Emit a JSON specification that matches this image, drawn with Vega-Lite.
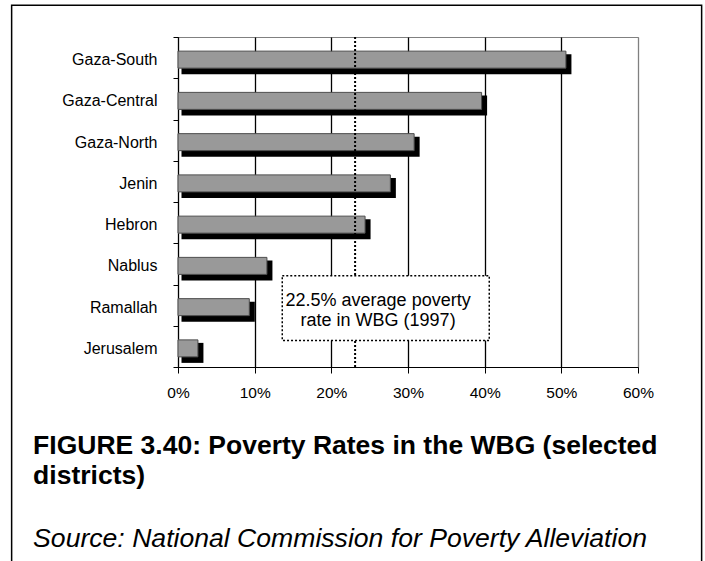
{
  "$schema": "https://vega.github.io/schema/vega-lite/v6.json",
  "width": 460,
  "height": 330,
  "autosize": "none",
  "padding": {"left": 178, "top": 37, "right": 67, "bottom": 194},
  "background": "white",
  "config": {
    "view": {"stroke": "#808080", "strokeWidth": 1},
    "font": "Liberation Sans",
    "text": {"font": "Liberation Sans"}
  },
  "datasets": {
    "rates": [
      {"district": "Gaza-South", "rate": 50.6},
      {"district": "Gaza-Central", "rate": 39.6},
      {"district": "Gaza-North", "rate": 30.8},
      {"district": "Jenin", "rate": 27.7},
      {"district": "Hebron", "rate": 24.4},
      {"district": "Nablus", "rate": 11.6},
      {"district": "Ramallah", "rate": 9.3},
      {"district": "Jerusalem", "rate": 2.6}
    ],
    "ref": [{"avg": 23.1}],
    "note": [{"x1": 13.6, "x2": 40.6, "y1": 5.79, "y2": 7.36, "lx": 26.1, "ly": 6.4, "label": ["22.5% average poverty", "rate in WBG (1997)"]}],
    "frame": [{"x1": -21.7, "x2": 68.3, "y1": -0.77, "y2": 12.9}],
    "captions": [
      {"cx": -18.9, "cy": 10.12, "kind": "title", "label": ["FIGURE 3.40: Poverty Rates in the WBG (selected", "districts)"]},
      {"cx": -18.9, "cy": 12.36, "kind": "source", "label": ["Source: National Commission for Poverty Alleviation"]}
    ]
  },
  "layer": [
    {
      "data": {"name": "rates"},
      "encoding": {
        "y": {
          "field": "district", "type": "nominal", "sort": null,
          "scale": {"paddingInner": 0, "paddingOuter": 0},
          "axis": {
            "title": null, "domainColor": "black", "domainWidth": 1,
            "tickColor": "black", "tickSize": 5, "tickBand": "extent",
            "labelPadding": 16, "labelFontSize": 16, "labelColor": "black",
            "labelFont": "Liberation Sans", "labelOffset": 2, "grid": false
          }
        }
      },
      "layer": [
        {
          "mark": {"type": "bar", "color": "black", "height": 20, "yOffset": 6.5, "xOffset": 5.5, "x2Offset": 3.5},
          "encoding": {
            "x": {"field": "rate", "type": "quantitative", "scale": {"domain": [0, 60], "nice": false}},
            "x2": {"datum": 0}
          }
        },
        {
          "mark": {"type": "bar", "fill": "#999999", "stroke": "#4d4d4d", "strokeWidth": 1, "height": 17, "yOffset": 2},
          "encoding": {
            "x": {
              "field": "rate", "type": "quantitative",
              "scale": {"domain": [0, 60], "nice": false},
              "axis": {
                "title": null, "values": [0, 10, 20, 30, 40, 50, 60],
                "labelExpr": "datum.value + '%'",
                "labelFlush": false,
                "domainColor": "black", "domainWidth": 1,
                "tickColor": "black", "tickSize": 6,
                "labelPadding": 12, "labelFontSize": 15.5, "labelColor": "black",
                "labelFont": "Liberation Sans",
                "grid": true, "gridWidth": 1.3,
                "gridColor": {"condition": {"test": "datum.value === 60", "value": "#808080"}, "value": "black"}
              }
            },
            "x2": {"datum": 0}
          }
        }
      ]
    },
    {
      "data": {"name": "ref"},
      "mark": {"type": "rule", "color": "black", "strokeWidth": 2, "strokeDash": [2, 2]},
      "encoding": {
        "x": {"field": "avg", "type": "quantitative", "scale": {"domain": [0, 60], "nice": false}}
      }
    },
    {
      "data": {"name": "note"},
      "layer": [
        {
          "mark": {"type": "rect", "fill": "white", "stroke": "black", "strokeWidth": 1.5, "strokeDash": [2, 2]},
          "encoding": {
            "x": {"field": "x1", "type": "quantitative", "scale": {"domain": [0, 60], "nice": false}},
            "x2": {"field": "x2"},
            "y": {"field": "y1", "type": "quantitative", "scale": {"domain": [0, 8], "reverse": true, "nice": false, "zero": false}, "axis": null},
            "y2": {"field": "y2"}
          }
        },
        {
          "mark": {"type": "text", "align": "center", "baseline": "middle", "fontSize": 18, "lineHeight": 20, "color": "black"},
          "encoding": {
            "x": {"field": "lx", "type": "quantitative", "scale": {"domain": [0, 60], "nice": false}},
            "y": {"field": "ly", "type": "quantitative", "scale": {"domain": [0, 8], "reverse": true, "nice": false, "zero": false}, "axis": null},
            "text": {"field": "label"}
          }
        }
      ]
    },
    {
      "data": {"name": "frame"},
      "mark": {"type": "rect", "fill": null, "fillOpacity": 0, "stroke": "black", "strokeWidth": 1.5},
      "encoding": {
        "x": {"field": "x1", "type": "quantitative", "scale": {"domain": [0, 60], "nice": false}},
        "x2": {"field": "x2"},
        "y": {"field": "y1", "type": "quantitative", "scale": {"domain": [0, 8], "reverse": true, "nice": false, "zero": false}, "axis": null},
        "y2": {"field": "y2"}
      }
    },
    {
      "data": {"name": "captions"},
      "layer": [
        {
          "transform": [{"filter": "datum.kind === 'title'"}],
          "mark": {"type": "text", "align": "left", "baseline": "alphabetic", "fontSize": 26.5, "fontWeight": "bold", "lineHeight": 30, "color": "black"},
          "encoding": {
            "x": {"field": "cx", "type": "quantitative", "scale": {"domain": [0, 60], "nice": false}},
            "y": {"field": "cy", "type": "quantitative", "scale": {"domain": [0, 8], "reverse": true, "nice": false, "zero": false}, "axis": null},
            "text": {"field": "label"}
          }
        },
        {
          "transform": [{"filter": "datum.kind === 'source'"}],
          "mark": {"type": "text", "align": "left", "baseline": "alphabetic", "fontSize": 26.6, "fontStyle": "italic", "color": "black"},
          "encoding": {
            "x": {"field": "cx", "type": "quantitative", "scale": {"domain": [0, 60], "nice": false}},
            "y": {"field": "cy", "type": "quantitative", "scale": {"domain": [0, 8], "reverse": true, "nice": false, "zero": false}, "axis": null},
            "text": {"field": "label"}
          }
        }
      ]
    }
  ],
  "resolve": {"scale": {"y": "independent"}}
}
